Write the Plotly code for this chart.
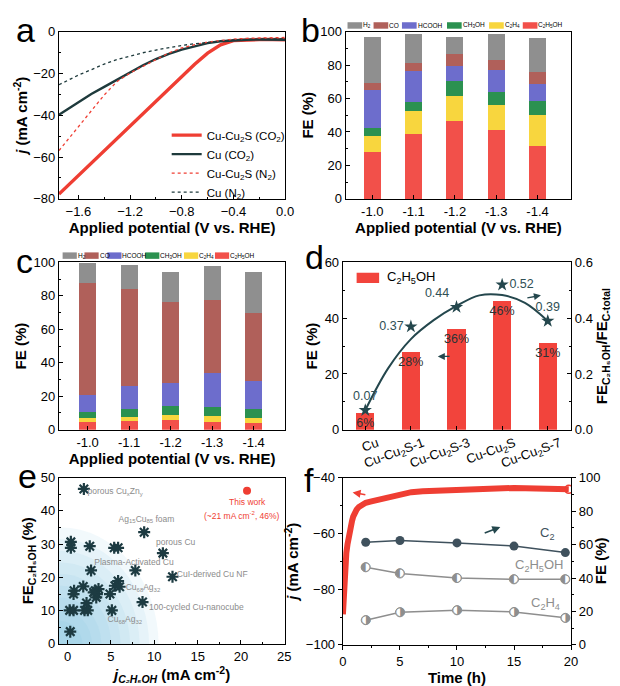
import plotly.graph_objects as go

W, H = 620, 686
FONT = "Liberation Sans, Arial, sans-serif"
RED = "#ef3e33"
DARK = "#1e3a3c"
GRAYTXT = "#8c8c8c"

# ---------------- panel a : LSV ----------------
a_potential = [-1.75, -1.6, -1.5, -1.4, -1.3, -1.2, -1.1, -1.0, -0.9, -0.8,
               -0.7, -0.6, -0.5, -0.4, -0.3, -0.2, -0.1, 0.0]
a_cucu2s_co2 = [-77.7, -68.9, -63.0, -57.1, -51.2, -45.3, -39.4, -33.3, -27.3, -21.4,
                -15.6, -10.3, -6.3, -4.3, -3.9, -3.8, -3.8, -3.9]
a_cu_co2 = [-39.8, -33.6, -29.8, -26.4, -23.0, -19.4, -16.1, -13.1, -10.6, -8.6,
            -6.9, -5.5, -4.6, -4.1, -3.9, -3.8, -3.8, -3.9]
a_cucu2s_n2 = [-56.9, -45.3, -37.5, -30.3, -23.8, -19.8, -16.6, -13.2, -10.2, -7.8,
               -6.2, -5.0, -4.2, -3.6, -3.2, -3.0, -2.9, -2.8]
a_cu_n2 = [-25.4, -20.8, -18.2, -15.5, -13.3, -11.6, -10.1, -8.8, -7.6, -6.6,
           -5.8, -5.1, -4.5, -4.0, -3.8, -3.6, -3.5, -3.4]

# ---------------- panels b, c : FE stacks ----------------
potentials = ["-1.0", "-1.1", "-1.2", "-1.3", "-1.4"]
products = ["C2H5OH", "C2H4", "CH3OH", "HCOOH", "CO", "H2"]
product_labels = {"H2": "H<sub>2</sub>", "CO": "CO", "HCOOH": "HCOOH",
                  "CH3OH": "CH<sub>3</sub>OH", "C2H4": "C<sub>2</sub>H<sub>4</sub>",
                  "C2H5OH": "C<sub>2</sub>H<sub>5</sub>OH"}
product_colors = {"H2": "#8f8f8f", "CO": "#b0605a", "HCOOH": "#6d6dcc",
                  "CH3OH": "#2b9150", "C2H4": "#f8d63e", "C2H5OH": "#f2504a"}
legend_order = ["H2", "CO", "HCOOH", "CH3OH", "C2H4", "C2H5OH"]

b_fe = {
    "C2H5OH": [27.8, 38.6, 46.7, 41.0, 31.6],
    "C2H4":   [9.5, 13.8, 15.1, 14.9, 18.4],
    "CH3OH":  [4.9, 5.4, 8.8, 7.8, 8.4],
    "HCOOH":  [22.9, 18.5, 9.0, 13.3, 10.4],
    "CO":     [3.9, 4.7, 7.3, 6.3, 7.1],
    "H2":     [27.9, 17.6, 10.1, 15.1, 20.1],
}
c_fe = {
    "C2H5OH": [4.9, 5.5, 5.9, 4.7, 4.3],
    "C2H4":   [1.9, 2.3, 2.7, 3.5, 2.9],
    "CH3OH":  [3.6, 4.3, 5.5, 5.5, 5.3],
    "HCOOH":  [10.1, 14.3, 13.8, 20.3, 16.8],
    "CO":     [67.2, 58.0, 48.3, 43.3, 40.4],
    "H2":     [11.7, 14.0, 17.9, 20.6, 24.8],
}

# ---------------- panel d ----------------
d_samples = ["Cu", "Cu-Cu<sub>2</sub>S-1", "Cu-Cu<sub>2</sub>S-3", "Cu-Cu<sub>2</sub>S", "Cu-Cu<sub>2</sub>S-7"]
d_index = [0, 1, 2, 3, 4]
d_fe_c2h5oh = [6, 28, 36, 46, 31]
d_fe_labels = ["6%", "28%", "36%", "46%", "31%"]
d_ratio = [0.07, 0.37, 0.44, 0.52, 0.39]
d_ratio_labels = ["0.07", "0.37", "0.44", "0.52", "0.39"]
d_fit_x = [0, 0.5, 1, 1.5, 2, 2.5, 3, 3.5, 4]
d_fit_y = [0.07, 0.22, 0.325, 0.393, 0.444, 0.482, 0.483, 0.455, 0.39]

# ---------------- panel e ----------------
e_lit_j = [1.87, 8.83, 10.99, 0.37, 0.37, 2.55, 5.37, 5.82, 2.7, 7.81, 12.1,
           5.82, 5.45, 6.0, 1.8, 0.74, 0.68, 3.19, 3.56, 3.38, 3.3, 3.0, 4.88,
           2.18, 8.64, 0.23, 0.68, 1.95, 2.32, 5.1, 0.3]
e_lit_fe = [46.6, 33.6, 27.3, 30.7, 28.9, 29.4, 28.9, 28.9, 22.1, 22.1, 20.2,
            18.9, 17.5, 17.2, 17.3, 16.0, 15.0, 16.0, 16.5, 15.0, 14.0, 15.5, 15.0,
            12.3, 12.6, 10.1, 10.1, 10.1, 10.1, 10.1, 3.7]
e_this_j = [20.7]
e_this_fe = [46.1]
e_labels = ["porous Cu<sub>x</sub>Zn<sub>y</sub>", "Ag<sub>15</sub>Cu<sub>85</sub> foam", "porous Cu",
            "Plasma-Activated Cu", "CuI-derived Cu NF", "Cu<sub>68</sub>Ag<sub>32</sub>",
            "100-cycled Cu-nanocube", "Cu<sub>68</sub>Ag<sub>32</sub>"]
e_label_x = [2.3, 9.1, 10.2, 7.65, 12.6, 6.7, 9.4, 6.6]
e_label_y = [45.8, 37.4, 30.5, 24.3, 20.8, 16.9, 10.9, 7.2]
e_label_anchor = ["left", "center", "left", "center", "left", "left", "left", "center"]

# ---------------- panel f ----------------
f_time = [0, 0.05, 0.1, 0.15, 0.2, 0.3, 0.4, 0.5, 0.6, 0.7, 0.8, 0.9, 1.0, 1.2, 1.4,
          1.7, 2.0, 2.5, 3.0, 3.5, 4.0, 4.5, 5.0, 5.5, 6.0, 7.0, 8.0, 9.0, 10.0, 11.0,
          12.0, 13.0, 14.0, 15.0, 16.0, 17.0, 18.0, 19.0, 19.8]
f_j = [-89, -84, -78, -74, -71, -67, -64, -61, -59, -57, -55.5, -54, -53, -51.5, -50.5,
       -49.8, -49, -48.5, -48, -47.3, -46.8, -46.3, -45.8, -45.5, -45.2, -44.9, -44.7,
       -44.5, -44.3, -44.2, -44.0, -43.8, -43.6, -43.7, -43.8, -43.9, -44.0, -44.1, -44.2]
f_fe_time = [2, 5, 10, 15, 19.5]
f_fe_c2 = [61.4, 62.4, 61.0, 59.1, 55.2]
f_fe_c2h5oh = [46.4, 42.7, 40.0, 39.2, 39.2]
f_fe_c2h4 = [14.8, 19.5, 20.7, 19.7, 16.2]


def px(x):
    return x / W


def py(y):
    return 1 - y / H


fig = go.Figure()

# panel a traces
fig.add_trace(go.Scatter(x=a_potential, y=a_cucu2s_co2, mode="lines", name="Cu-Cu<sub>2</sub>S (CO<sub>2</sub>)",
                         line=dict(color=RED, width=3.4), xaxis="x", yaxis="y"))
fig.add_trace(go.Scatter(x=a_potential, y=a_cu_co2, mode="lines", name="Cu (CO<sub>2</sub>)",
                         line=dict(color=DARK, width=2.4), xaxis="x", yaxis="y"))
fig.add_trace(go.Scatter(x=a_potential, y=a_cucu2s_n2, mode="lines", name="Cu-Cu<sub>2</sub>S (N<sub>2</sub>)",
                         line=dict(color=RED, width=1.3, dash="dot"), xaxis="x", yaxis="y"))
fig.add_trace(go.Scatter(x=a_potential, y=a_cu_n2, mode="lines", name="Cu (N<sub>2</sub>)",
                         line=dict(color=DARK, width=1.3, dash="dot"), xaxis="x", yaxis="y"))

# panels b, c stacked bars
for data, xa, ya in [(b_fe, "x2", "y2"), (c_fe, "x3", "y3")]:
    for p in products:
        fig.add_trace(go.Bar(x=potentials, y=data[p], name=product_labels[p],
                             marker=dict(color=product_colors[p], line=dict(width=0)),
                             width=0.41, xaxis=xa, yaxis=ya, showlegend=False))

# panel d
fig.add_trace(go.Bar(x=d_index, y=d_fe_c2h5oh, name="C<sub>2</sub>H<sub>5</sub>OH", width=0.4,
                     marker=dict(color="#f2443c", line=dict(width=0)),
                     text=d_fe_labels, textposition="inside", insidetextanchor="end",
                     textangle=0, constraintext="none",
                     textfont=dict(color="#2b3335", size=12.5, family=FONT),
                     xaxis="x4", yaxis="y4", showlegend=False))
fig.add_trace(go.Scatter(x=d_fit_x, y=d_fit_y, mode="lines", line=dict(color="#24474d", width=2, shape="spline"),
                         xaxis="x4", yaxis="y5", showlegend=False))
fig.add_trace(go.Scatter(x=d_index, y=d_ratio, mode="markers+text", text=d_ratio_labels,
                         textposition=["top center", "middle left", "top left", "middle right", "top center"],
                         textfont=dict(color="#2f4f55", size=12.5, family=FONT),
                         marker=dict(symbol="star", size=10, color="#24474d"),
                         xaxis="x4", yaxis="y5", showlegend=False))

# panel e
fig.add_trace(go.Scatter(x=e_lit_j, y=e_lit_fe, mode="markers",
                         marker=dict(symbol="asterisk-open", size=10, color="#1d3b42",
                                     line=dict(color="#1d3b42", width=2.2)),
                         xaxis="x5", yaxis="y6", showlegend=False))
fig.add_trace(go.Scatter(x=e_this_j, y=e_this_fe, mode="markers",
                         marker=dict(symbol="circle", size=8, color=RED),
                         xaxis="x5", yaxis="y6", showlegend=False))
fig.add_trace(go.Scatter(x=e_label_x, y=e_label_y, mode="text", text=e_labels,
                         textposition=["middle right" if a == "left" else "middle center" for a in e_label_anchor],
                         textfont=dict(color=GRAYTXT, size=8.5, family=FONT),
                         xaxis="x5", yaxis="y6", showlegend=False))

# panel f
fig.add_trace(go.Scatter(x=f_time, y=f_j, mode="lines", line=dict(color=RED, width=6),
                         xaxis="x6", yaxis="y7", showlegend=False))
fig.add_trace(go.Scatter(x=f_time[-1:], y=f_j[-1:], mode="markers",
                         marker=dict(symbol="circle-open", size=8, color=RED, line=dict(width=1.5)),
                         xaxis="x6", yaxis="y7", showlegend=False))
fig.add_trace(go.Scatter(x=f_fe_time, y=f_fe_c2, mode="lines+markers", line=dict(color="#3f515d", width=1.5),
                         marker=dict(symbol="circle", size=9, color="#3f515d"),
                         xaxis="x6", yaxis="y8", showlegend=False))
for series in [f_fe_c2h5oh, f_fe_c2h4]:
    fig.add_trace(go.Scatter(x=f_fe_time, y=series, mode="lines+markers", line=dict(color="#8e8e8e", width=1.5),
                             marker=dict(symbol="circle", size=9, color="white", line=dict(color="#8e8e8e", width=1)),
                             xaxis="x6", yaxis="y8", showlegend=False))
fig.add_trace(go.Scatter(x=f_fe_time, y=f_fe_c2h5oh, mode="text", text=["◐"] * 5,
                         textposition="middle center", textfont=dict(color="#8e8e8e", size=12, family="DejaVu Sans"),
                         xaxis="x6", yaxis="y8", showlegend=False))
fig.add_trace(go.Scatter(x=f_fe_time, y=f_fe_c2h4, mode="text", text=["◑"] * 5,
                         textposition="middle center", textfont=dict(color="#8e8e8e", size=12, family="DejaVu Sans"),
                         xaxis="x6", yaxis="y8", showlegend=False))


def axis(domain, rng, anchor, dtick=None, minor=None, ticks="inside", **kw):
    d = dict(domain=domain, range=rng, anchor=anchor, showline=True, linecolor="black", linewidth=1.4,
             mirror=True, ticks=ticks, ticklen=4, tickwidth=1.2, tickcolor="black", showgrid=False,
             zeroline=False, tickfont=dict(family=FONT, size=13, color="black"))
    if dtick is not None:
        d["dtick"] = dtick
    if minor is not None:
        d["minor"] = dict(dtick=minor, ticks=ticks, ticklen=2, tickwidth=1, tickcolor="black")
    d.update(kw)
    return d


def title(text, standoff):
    return dict(text=text, font=dict(family=FONT, size=15, color="black"), standoff=standoff)


xa_ = [px(48), px(279)]
xb_ = [px(341), px(571)]
xd_ = [px(338), px(571)]
ytop = [py(188), py(17)]
ymid = [py(424), py(253)]
ybot = [py(643), py(473)]

APT = "<b>Applied potential (V vs. RHE)</b>"
fig.update_layout(
    width=W, height=H, margin=dict(l=0, r=0, t=0, b=0),
    paper_bgcolor="white", plot_bgcolor="white",
    barmode="stack",
    font=dict(family=FONT, size=13, color="black"),
    xaxis=axis(xa_, [-1.75, 0], "y", 0.4, 0.2, tickformat=".1f", title=title(APT, 4)),
    yaxis=axis(ytop, [-80, 0], "x", 20, 10, title=title("<b><i>j</i> (mA cm<sup>-2</sup>)</b>", 1)),
    xaxis2=axis(xb_, [-0.64, 4.81], "y2", type="category", title=title(APT, 4)),
    yaxis2=axis(ytop, [0, 100], "x2", 20, 10, title=title("<b>FE (%)</b>", 3)),
    xaxis3=axis(xa_, [-0.69, 4.76], "y3", type="category", title=title(APT, 4)),
    yaxis3=axis(ymid, [0, 100], "x3", 20, 10, title=title("<b>FE (%)</b>", 3)),
    xaxis4=axis(xd_, [-0.49, 4.51], "y4", tickvals=d_index, ticktext=d_samples, tickangle=-20,
                ticklabelshift=12),
    yaxis4=axis(ymid, [0, 60], "x4", 20, 10, title=title("<b>FE (%)</b>", 3)),
    yaxis5=axis(ymid, [0, 0.6], "x4", 0.2, 0.1, overlaying="y4", side="right", tickformat=".1f",
                title=title("<b>FE<sub>C₂H₅OH</sub>/FE<sub>C-total</sub></b>", 1)),
    xaxis5=axis(xa_, [-1, 25.1], "y6", 5, 2.5,
                title=title("<b><i>j</i><sub><i>C₂H₅OH</i></sub> (mA cm<sup>-2</sup>)</b>", 4)),
    yaxis6=axis(ybot, [0, 50], "x5", 10, 5, title=title("<b>FE<sub>C₂H₅OH</sub> (%)</b>", 3)),
    xaxis6=axis(xd_, [0, 20], "y7", 5, 2.5, ticks="outside", title=title("<b>Time (h)</b>", 4)),
    yaxis7=axis([py(644), py(473)], [-100, -40], "x6", 20, 10, ticks="outside",
                title=title("<b><i>j</i> (mA cm<sup>-2</sup>)</b>", 3)),
    yaxis8=axis([py(644), py(473)], [0, 100], "x6", 20, 10, ticks="outside", overlaying="y7", side="right"),
    legend=dict(x=px(158), y=py(108), xanchor="left", yanchor="top", bgcolor="rgba(0,0,0,0)",
                traceorder="normal",
                font=dict(family=FONT, size=11.5, color="black"), tracegroupgap=0, itemwidth=30),
)

shapes = []
annotations = []

# right-hand title of panel f
annotations.append(dict(xref="paper", yref="paper", x=px(601), y=py(558), text="<b>FE (%)</b>", textangle=-90,
                        showarrow=False, xanchor="center", yanchor="middle",
                        font=dict(family=FONT, size=15, color="black")))

# manual legends for b and c
for x_list, yc, sw in [([342.7, 369.3, 398.3, 444.3, 487.3, 521.7], 10.7, 15.0),
                       ([51.7, 74.0, 97.3, 136.0, 175.7, 207.3], 246.0, 14.5)]:
    for x0, p in zip(x_list, legend_order):
        shapes.append(dict(type="rect", xref="paper", yref="paper", x0=px(x0), x1=px(x0 + sw),
                           y0=py(yc + 3.3), y1=py(yc - 3.3), fillcolor=product_colors[p], line=dict(width=0)))
        annotations.append(dict(xref="paper", yref="paper", x=px(x0 + sw), y=py(yc), xanchor="left",
                                yanchor="middle", text=product_labels[p], showarrow=False, borderpad=0,
                                font=dict(family=FONT, size=6.5, color="black")))

# panel d legend
shapes.append(dict(type="rect", xref="paper", yref="paper", x0=px(352), x1=px(375), y0=py(274), y1=py(263.5),
                   fillcolor="#f2443c", line=dict(width=0)))
annotations.append(dict(xref="paper", yref="paper", x=px(381), y=py(268.7), xanchor="left", yanchor="middle",
                        text="C<sub>2</sub>H<sub>5</sub>OH", showarrow=False,
                        font=dict(family=FONT, size=13, color="black")))

# panel e gradient blob
for k in range(9):
    s = 1 - k * 0.1
    shapes.append(dict(type="circle", xref="x5", yref="y6", x0=-1.5 - 10.5 * s, x1=-0.5 + 11.0 * s,
                       y0=-36 * s, y1=35 * s, fillcolor="rgba(105,190,222,0.085)", line=dict(width=0),
                       layer="below"))

# e: this work labels
annotations.append(dict(xref="x5", yref="y6", x=20.7, y=42.6, text="This work", showarrow=False,
                        font=dict(family=FONT, size=8.5, color=RED)))
annotations.append(dict(xref="x5", yref="y6", x=20.1, y=38.5, text="(~21 mA cm<sup>-2</sup>, 46%)",
                        showarrow=False, font=dict(family=FONT, size=8.5, color=RED)))

# f labels
annotations.append(dict(xref="x6", yref="y8", x=17.9, y=66.5, text="C<sub>2</sub>", showarrow=False,
                        font=dict(family=FONT, size=13, color="#3f515d")))
annotations.append(dict(xref="x6", yref="y8", x=17.2, y=47.5, text="C<sub>2</sub>H<sub>5</sub>OH",
                        showarrow=False, font=dict(family=FONT, size=13, color="#8e8e8e")))
annotations.append(dict(xref="x6", yref="y8", x=17.8, y=25.0, text="C<sub>2</sub>H<sub>4</sub>",
                        showarrow=False, font=dict(family=FONT, size=13, color="#8e8e8e")))

# arrows
annotations.append(dict(xref="x6", yref="y7", axref="x6", ayref="y7", x=0.85, y=-45.3, ax=2.1, ay=-46.2,
                        text="", showarrow=True, arrowhead=2, arrowsize=1, arrowwidth=1.6, arrowcolor=RED))
annotations.append(dict(xref="x6", yref="y8", axref="x6", ayref="y8", x=13.8, y=70.5, ax=12.3, ay=66.5,
                        text="", showarrow=True, arrowhead=2, arrowsize=1, arrowwidth=1.6, arrowcolor="#24474d"))
annotations.append(dict(xref="x4", yref="y4", axref="x4", ayref="y4", x=1.59, y=26.3, ax=1.88, ay=26.3,
                        text="", showarrow=True, arrowhead=2, arrowsize=1, arrowwidth=1.4, arrowcolor="#24474d"))
annotations.append(dict(xref="x4", yref="y5", axref="x4", ayref="y5", x=3.85, y=0.482, ax=3.52, ay=0.472,
                        text="", showarrow=True, arrowhead=2, arrowsize=1, arrowwidth=1.4, arrowcolor="#24474d"))

# panel letters
for letter, lx, ly in [("a", 14, 15), ("b", 305, 15), ("c", 13, 251), ("d", 309, 247), ("e", 16, 471), ("f", 303, 475)]:
    annotations.append(dict(xref="paper", yref="paper", x=px(lx), y=py(ly), text=letter, showarrow=False,
                            xanchor="center", yanchor="middle", font=dict(family=FONT, size=34, color="black")))

fig.update_layout(shapes=shapes, annotations=annotations)
fig.write_html("out.html")
